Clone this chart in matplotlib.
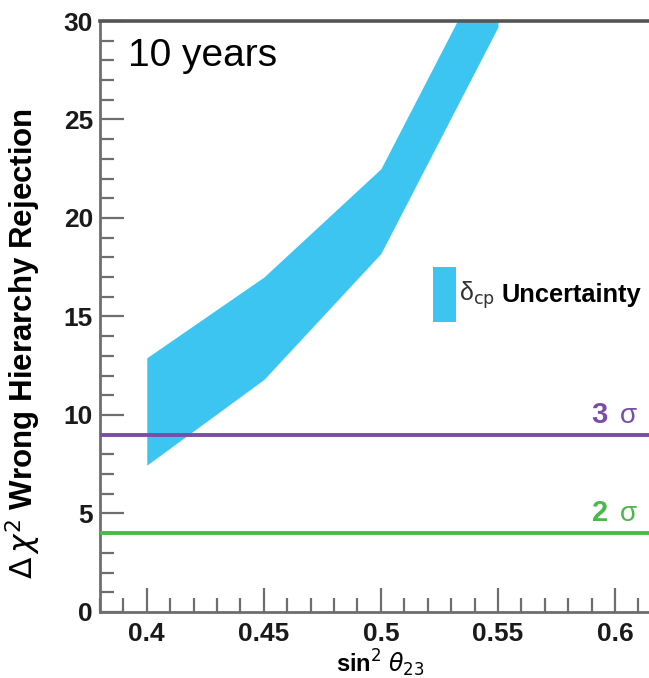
import numpy as np
import matplotlib.pyplot as plt
from matplotlib.ticker import MultipleLocator

# sin^2 theta23 grid and band edges (delta_cp uncertainty)
sin2_theta23 = [0.40, 0.45, 0.50, 0.55]
chi2_low = [7.45, 11.8, 18.2, 29.7]
chi2_high = [12.9, 17.0, 22.5, 34.0]

# significance levels
sigma_levels = [9.0, 4.0]
sigma_labels = ["3", "2"]
sigma_colors = ["#7a4ea8", "#4cb84a"]

band_color = "#3bc5f0"
axis_gray = "#6e6e6e"

plt.rcParams["font.family"] = ["Liberation Sans", "DejaVu Sans"]

fig = plt.figure(figsize=(6.49, 6.78), dpi=100)
ax = fig.add_axes([0.154, 0.0975, 0.846, 0.8715])

ax.fill_between(sin2_theta23, chi2_low, chi2_high, color=band_color, lw=0, zorder=2)

for lvl, lab, col in zip(sigma_levels, sigma_labels, sigma_colors):
    ax.axhline(lvl, color=col, lw=2.8, zorder=3)
    ax.text(0.5935, lvl + 0.3, lab, color=col, fontsize=21, fontweight="bold",
            ha="center", va="bottom")
    ax.text(0.6057, lvl + 0.3, "σ", color=col, fontsize=20,
            ha="center", va="bottom")

ax.set_xlim(0.38, 0.6145)
ax.set_ylim(0, 30)

# legend box drawn by hand (ROOT style)
ax.fill_between([0.5222, 0.5320], [14.7, 14.7], [17.5, 17.5], color=band_color,
                lw=0, zorder=2)
ax.text(0.5335, 16.1, "δ$_{\\rm cp}$", fontsize=18, va="center", ha="left",
        color="#333333")
ax.text(0.5515, 16.1, "Uncertainty", fontsize=18.3, fontweight="bold",
        va="center", ha="left", clip_on=False)

ax.text(0.3919, 28.2, "10 years", fontsize=28, va="center", ha="left")

ax.xaxis.set_major_locator(MultipleLocator(0.05))
ax.xaxis.set_minor_locator(MultipleLocator(0.01))
ax.yaxis.set_major_locator(MultipleLocator(5))
ax.yaxis.set_minor_locator(MultipleLocator(1))
ax.tick_params(which="both", direction="in", colors=axis_gray, width=1.6,
               labelcolor="#1a1a1a", labelsize=19, top=False, right=False)
ax.tick_params(which="major", length=17)
ax.tick_params(which="minor", length=10)
ax.xaxis.set_major_formatter(plt.FuncFormatter(lambda v, p: f"{v:g}"))
for lbl in ax.get_xticklabels() + ax.get_yticklabels():
    lbl.set_fontweight("bold")
ax.tick_params(axis="x", pad=7)
ax.tick_params(axis="y", pad=5)

for s in ["left", "bottom"]:
    ax.spines[s].set_color(axis_gray)
    ax.spines[s].set_linewidth(2)
ax.spines["top"].set_color("#555555")
ax.spines["top"].set_linewidth(2.6)
ax.spines["right"].set_visible(False)

ax.set_ylabel(r"$\Delta\,\chi^2$ Wrong Hierarchy Rejection", fontsize=22.5,
              fontweight="bold")
ax.yaxis.set_label_coords(-0.103, 0.455)
ax.set_xlabel(r"sin$^{2}$ $\theta_{23}$", fontsize=17, fontweight="bold")
ax.xaxis.set_label_coords(0.51, -0.06)

fig.savefig("out.png", dpi=100)
